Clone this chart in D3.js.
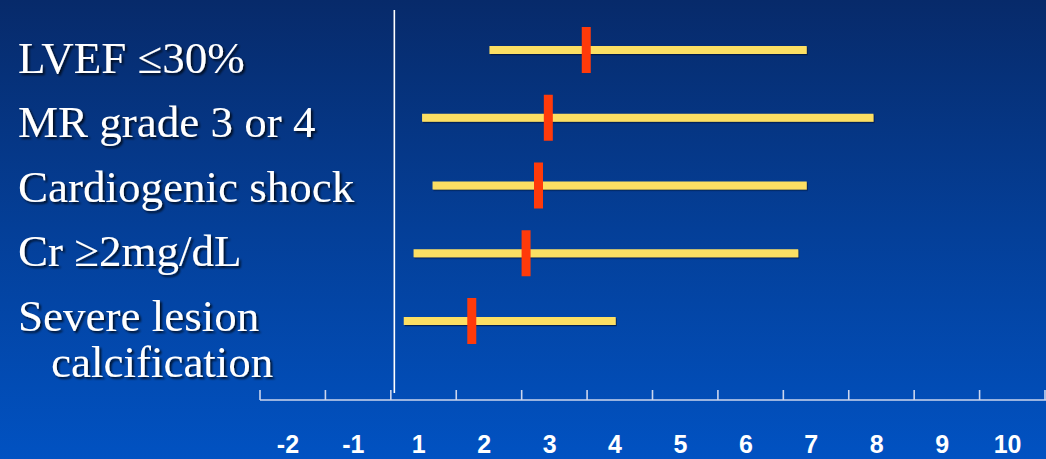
<!DOCTYPE html>
<html>
<head>
<meta charset="utf-8">
<script src="https://cdn.jsdelivr.net/npm/d3@7"></script>
<style>
  html, body { margin: 0; padding: 0; background: #0544a0; }
  svg { display: block; }
</style>
</head>
<body>
<script>
// Risk factors and their estimates (point, lower, upper)
const categories = ["LVEF ≤30%", "MR grade 3 or 4", "Cardiogenic shock", "Cr ≥2mg/dL", "Severe lesion\ncalcification"];
const pointEst = [3.56, 2.98, 2.83, 2.64, 1.81];
const lowerCI  = [2.08, 1.05, 1.21, 0.92, 0.77];
const upperCI  = [6.93, 7.95, 6.93, 6.80, 4.01];
const tickLabels = ["-2", "-1", "1", "2", "3", "4", "5", "6", "7", "8", "9", "10"];

const W = 1046, H = 459;

const svg = d3.select("body").append("svg")
  .attr("width", W).attr("height", H);

const defs = svg.append("defs");
const grad = defs.append("linearGradient")
  .attr("id", "bg").attr("x1", 0).attr("y1", 0).attr("x2", 0).attr("y2", 1);
grad.append("stop").attr("offset", "0%").attr("stop-color", "#072a6a");
grad.append("stop").attr("offset", "50%").attr("stop-color", "#043f98");
grad.append("stop").attr("offset", "100%").attr("stop-color", "#0152c2");

const textShadow = defs.append("filter").attr("id", "tshadow")
  .attr("x", "-5%").attr("y", "-20%").attr("width", "115%").attr("height", "150%");
textShadow.append("feDropShadow")
  .attr("dx", 2).attr("dy", 2).attr("stdDeviation", 0.8)
  .attr("flood-color", "#000000").attr("flood-opacity", 0.75);

const barShadow = defs.append("filter").attr("id", "bshadow")
  .attr("x", "-2%").attr("y", "-50%").attr("width", "104%").attr("height", "200%");
barShadow.append("feDropShadow")
  .attr("dx", 1).attr("dy", 1.2).attr("stdDeviation", 0.6)
  .attr("flood-color", "#000a30").attr("flood-opacity", 0.7);

svg.append("rect").attr("width", W).attr("height", H).attr("fill", "url(#bg)");

// Axis: one band per tick label, tick marks on band edges
const xBand = d3.scaleBand().domain(tickLabels).range([260, 1045]);
const labelShift = -4.75;
const bandCenter = d => xBand(d) + xBand.bandwidth() / 2 + labelShift;

// Value scale aligned with the label centres
const x = d3.scaleLinear()
  .domain([1, 10])
  .range([bandCenter("1"), bandCenter("10")]);

// Rows
const y = d3.scalePoint().domain(categories).range([50, 321]);

const axisY = 400;
const axisColor = "#ccd6ee";

svg.append("line")
  .attr("x1", xBand.range()[0]).attr("x2", W)
  .attr("y1", axisY).attr("y2", axisY)
  .attr("stroke", axisColor).attr("stroke-width", 1.6);

const edges = tickLabels.map(d => xBand(d)).concat([xBand(tickLabels[tickLabels.length - 1]) + xBand.bandwidth()]);
svg.append("g").selectAll("line").data(edges).join("line")
  .attr("x1", d => d).attr("x2", d => d)
  .attr("y1", axisY - 10).attr("y2", axisY)
  .attr("stroke", axisColor).attr("stroke-width", 1.6);

svg.append("g").selectAll("text").data(tickLabels).join("text")
  .attr("x", d => bandCenter(d))
  .attr("y", 453)
  .attr("text-anchor", "middle")
  .attr("font-family", "'Liberation Sans', Arial, sans-serif")
  .attr("font-weight", "bold")
  .attr("font-size", 25)
  .attr("fill", "#ffffff")
  .text(d => d);

// Reference line at the start of the positive side
const refX = xBand("1") + 3.5;
svg.append("line")
  .attr("x1", refX).attr("x2", refX)
  .attr("y1", 10).attr("y2", 393)
  .attr("stroke", "#ffffff").attr("stroke-width", 1.6);

// Category labels
const labelG = svg.append("g")
  .attr("font-family", "'Liberation Serif', 'Times New Roman', serif")
  .attr("font-size", 45)
  .attr("fill", "#ffffff")
  .attr("filter", "url(#tshadow)");

let line = 0;
categories.forEach(c => {
  c.split("\n").forEach((part, j) => {
    labelG.append("text")
      .attr("x", j === 0 ? 18 : 51)
      .attr("y", 72.5 + line * 64.5 - (j > 0 ? 18 : 0))
      .text(part);
    line += 1;
  });
});

// Confidence intervals
const rows = categories.map((c, i) => ({ c, p: pointEst[i], lo: lowerCI[i], hi: upperCI[i] }));

svg.append("g").selectAll("rect").data(rows).join("rect")
  .attr("x", d => x(d.lo))
  .attr("y", d => y(d.c) - 4)
  .attr("width", d => x(d.hi) - x(d.lo))
  .attr("height", 8)
  .attr("fill", "#fcdf63")
  .attr("filter", "url(#bshadow)");

// Point estimates
svg.append("g").selectAll("rect").data(rows).join("rect")
  .attr("x", d => x(d.p) - 4.5)
  .attr("y", d => y(d.c) - 23)
  .attr("width", 9)
  .attr("height", 46)
  .attr("fill", "#ff3a0a");
</script>
</body>
</html>
